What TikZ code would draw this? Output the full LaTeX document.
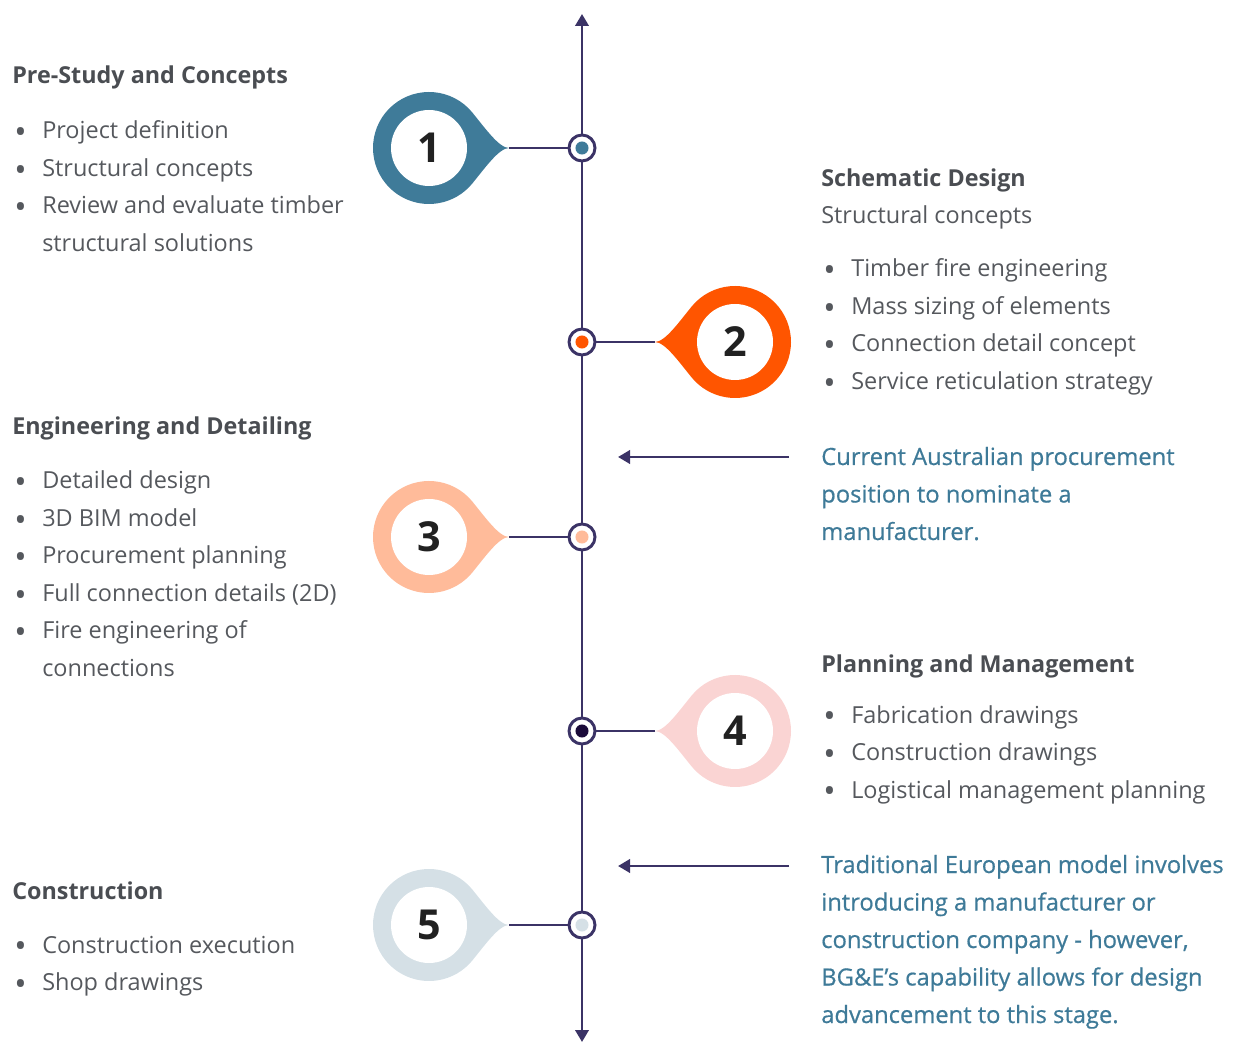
\documentclass[tikz,border=0pt]{standalone}
\usepackage{fontspec}
\setmainfont{Open Sans}
\newfontfamily\notefont{Open Sans}[FakeBold=0.6]
\usetikzlibrary{arrows.meta}

\definecolor{tlline}{HTML}{3B3366}
\definecolor{stepone}{HTML}{3F7B99}
\definecolor{steptwo}{HTML}{FF5500}
\definecolor{stepthree}{HTML}{FFBB9A}
\definecolor{stepfour}{HTML}{FAD4D3}
\definecolor{stepfive}{HTML}{D5E0E6}
\definecolor{dotfour}{HTML}{1B0B3A}
\definecolor{headgray}{HTML}{4A4D52}
\definecolor{bodygray}{HTML}{55585D}
\definecolor{noteblue}{HTML}{3E7A98}

% bullet and hanging indent for the lists
\newcommand{\itm}{\makebox[22.5pt][l]{\hspace{1.6pt}\raisebox{-0.2em}{\scalebox{1.4}{\textbullet}}}}
\newcommand{\cont}{\hspace{22.5pt}}

% pin drawn around its centre, #2 = 1 points right, -1 points left
\newcommand{\drawpin}[3]{%
  \fill[#3, shift={#1}, xscale=#2] (80,0) .. controls (70,0) and (56,-20) .. (42.9,-36)
    arc[start angle=-40, end angle=-320, radius=56] .. controls (56,20) and (70,0) .. (80,0);
  \fill[white, shift={#1}] (0,0) circle (28.5pt);
}

\begin{document}
\begin{tikzpicture}[x=0.75pt, y=-0.75pt,
    tl/.style={draw=tlline, line width=2.1pt},
    tip/.style={-{Triangle[width=10pt,length=9pt]}},
    dotring/.style={circle, draw=tlline, line width=2.2pt, fill=white, minimum size=19.5pt, inner sep=0pt},
    num/.style={inner sep=0pt, font=\fontsize{31}{31}\selectfont\bfseries, text=black!87},
    head/.style={anchor=base west, inner sep=0pt, font=\fontsize{17.5}{28.125}\selectfont\bfseries, text=headgray},
    body/.style={anchor=base west, inner sep=0pt, font=\fontsize{17.6}{28.125}\selectfont, text=bodygray},
    note/.style={body, font=\fontsize{17.8}{28.125}\selectfont\notefont, text=noteblue}]
  \useasboundingbox (0,0) rectangle (1250,1044);

  % timeline
  \coordinate (top) at (582,14);
  \coordinate (bot) at (582,1042);
  \draw[tl, {Triangle[width=10pt,length=9pt]}-{Triangle[width=10pt,length=9pt]}] (bot) -- (top);

  % pins
  \drawpin{(429,148)}{1}{stepone}
  \drawpin{(735,342)}{-1}{steptwo}
  \drawpin{(429,537)}{1}{stepthree}
  \drawpin{(735,731)}{-1}{stepfour}
  \drawpin{(429,925)}{1}{stepfive}

  \coordinate (t1) at (509,148);
  \coordinate (t2) at (655,342);
  \coordinate (t3) at (509,537);
  \coordinate (t4) at (655,731);
  \coordinate (t5) at (509,925);

  \node[num] (n1) at (429,148) {1};
  \node[num] (n2) at (735,342) {2};
  \node[num] (n3) at (429,537) {3};
  \node[num] (n4) at (735,731) {4};
  \node[num] (n5) at (429,925) {5};

  % markers on the line
  \node[dotring] (m1) at (582,148) {};
  \node[dotring] (m2) at (582,342) {};
  \node[dotring] (m3) at (582,537) {};
  \node[dotring] (m4) at (582,731) {};
  \node[dotring] (m5) at (582,925) {};
  \fill[stepone] (m1) circle (4.9pt);
  \fill[steptwo] (m2) circle (4.9pt);
  \fill[stepthree] (m3) circle (4.9pt);
  \fill[dotfour] (m4) circle (4.9pt);
  \fill[stepfive] (m5) circle (4.9pt);

  \draw[tl] (t1) -- (m1);
  \draw[tl] (t2) -- (m2);
  \draw[tl] (t3) -- (m3);
  \draw[tl] (t4) -- (m4);
  \draw[tl] (t5) -- (m5);

  % side arrows
  \coordinate (a1s) at (789,457);
  \coordinate (a1e) at (618,457);
  \coordinate (a2s) at (789,866);
  \coordinate (a2e) at (618,866);
  \draw[tl, tip] (a1s) -- (a1e);
  \draw[tl, tip] (a2s) -- (a2e);

  % left texts
  \node[head] (h1) at (12,84) {Pre-Study and Concepts};
  \node[body] (l1) at (12,139) {\begin{tabular}[t]{@{}l@{}}
    \itm Project definition\\
    \itm Structural concepts\\
    \itm Review and evaluate timber\\
    \cont structural solutions\end{tabular}};

  \node[head] (h3) at (12,435) {Engineering and Detailing};
  \node[body] (l3) at (12,489) {\begin{tabular}[t]{@{}l@{}}
    \itm Detailed design\\
    \itm 3D BIM model\\
    \itm Procurement planning\\
    \itm Full connection details (2D)\\
    \itm Fire engineering of\\
    \cont connections\end{tabular}};

  \node[head] (h5) at (12,899) {Construction};
  \node[body] (l5) at (12,953) {\begin{tabular}[t]{@{}l@{}}
    \itm Construction execution\\
    \itm Shop drawings\end{tabular}};

  % right texts
  \node[head] (h2) at (821,187) {Schematic Design};
  \node[body] (s2) at (821,224) {Structural concepts};
  \node[body] (l2) at (821,277) {\begin{tabular}[t]{@{}l@{}}
    \itm Timber fire engineering\\
    \itm Mass sizing of elements\\
    \itm Connection detail concept\\
    \itm Service reticulation strategy\end{tabular}};

  \node[note] (c1) at (821,465) {\begin{tabular}[t]{@{}l@{}}
    Current Australian procurement\\
    position to nominate a\\
    manufacturer.\end{tabular}};

  \node[head] (h4) at (821,672) {Planning and Management};
  \node[body] (l4) at (821,723) {\begin{tabular}[t]{@{}l@{}}
    \itm Fabrication drawings\\
    \itm Construction drawings\\
    \itm Logistical management planning\end{tabular}};

  \node[note] (c2) at (821,873) {\begin{tabular}[t]{@{}l@{}}
    Traditional European model involves\\
    introducing a manufacturer or\\
    construction company - however,\\
    BG\&E’s capability allows for design\\
    advancement to this stage.\end{tabular}};
\end{tikzpicture}
\end{document}
